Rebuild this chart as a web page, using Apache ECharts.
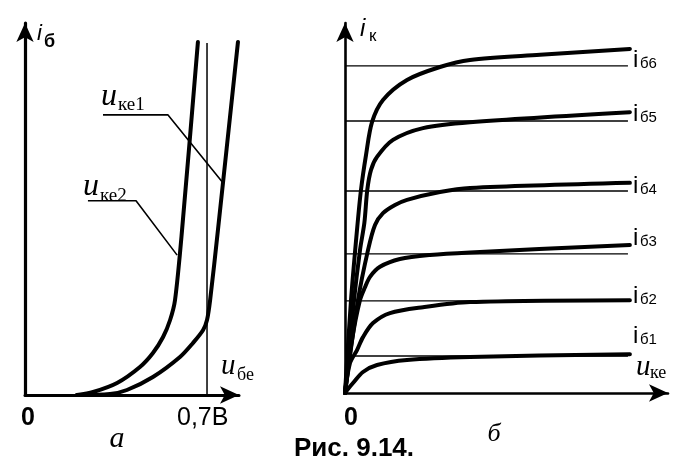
<!DOCTYPE html>
<html><head><meta charset="utf-8">
<script src="https://cdn.jsdelivr.net/npm/echarts@6/dist/echarts.min.js"></script>
<style>html,body{margin:0;padding:0;background:#fff}#c{width:692px;height:475px}</style>
</head><body><div id="c"></div>
<script>
// ---- left panel (a): input characteristics i_б(u_бе) ----
const ubeMax = 0.823;
const thresholdU = 0.7;
const thresholdTop = 94.6;
const inputKe2 = [[0.2,0],[0.262,0.81],[0.354,3.23],[0.442,7.53],[0.492,11.29],[0.531,15.59],[0.558,20.16],[0.577,25.54],[0.604,44.35],[0.665,94.89]];
const inputKe1 = [[0.2,0],[0.327,0.27],[0.392,1.34],[0.492,4.84],[0.596,10.22],[0.646,13.98],[0.685,17.47],[0.7,20.16],[0.712,25.54],[0.742,44.35],[0.819,94.89]];
const leaderKe1 = [[0.3,75.3],[0.55,75.3],[0.758,57.3]];
const leaderKe2 = [[0.242,52.2],[0.427,52.2],[0.585,37.6]];

// ---- right panel (б): output characteristics i_к(u_ке) ----
const outIb1 = [[0,0],[0.93,1.08],[2.48,2.7],[5.57,5.68],[9.91,7.57],[19.2,8.92],[38.7,9.73],[88.2,10.5]];
const outIb2 = [[0,0],[1.55,8.1],[3.72,11.6],[5.57,15.1],[8.67,18.9],[13.93,21.6],[24.15,23.2],[38.7,24.6],[88.2,25.1]];
const outIb3 = [[0,0],[2.17,14.3],[4.64,25.1],[6.19,28.6],[7.74,31.4],[10.84,34.1],[17.0,36.2],[26.3,37.3],[38.7,38.0],[88.2,40.0]];
const outIb4 = [[0,0],[4.02,25.1],[7.12,38.6],[9.29,45.4],[11.76,48.6],[15.48,50.8],[19.2,52.2],[29.4,54.3],[38.7,55.4],[88.2,56.8]];
const outIb5 = [[0,0],[2.79,25.1],[4.64,38.6],[6.0,46.0],[6.9,54.9],[8.05,60.3],[9.91,63.8],[14.86,68.4],[24.15,71.6],[38.7,73.2],[88.2,75.9]];
const outIb6 = [[0,0],[1.86,25.1],[3.72,44.1],[4.95,54.9],[6.5,64.3],[8.36,73.2],[11.76,79.2],[19.2,84.6],[29.4,88.1],[38.7,90.0],[60.4,91.4],[88.2,93.0]];
const baseLevels = [10.0, 24.9, 37.6, 54.6, 73.5, 88.4];
const levelEnd = 87.6;
const baseLabels = ['б1','б2','б3','б4','б5','б6'];

const chart = echarts.init(document.getElementById('c'), null, {renderer:'canvas'});

const axisStyle = (w) => ({show:true, onZero:false, symbol:['none','arrow'], symbolSize:[13,19], lineStyle:{color:'#000', width:w}});
const hidden = {axisTick:{show:false}, axisLabel:{show:false}, splitLine:{show:false}};

const thick = (data, xi) => ({type:'line', data, xAxisIndex:xi, yAxisIndex:xi, showSymbol:false, smooth:0.3,
  lineStyle:{color:'#000', width:4, cap:'round', join:'round'}, silent:true});
const thin = (data, xi, w) => ({type:'line', data, xAxisIndex:xi, yAxisIndex:xi, showSymbol:false, smooth:false,
  lineStyle:{color:'#000', width:w}, silent:true});

const series = [
  thin([[thresholdU,0],[thresholdU,thresholdTop]], 0, 1.5),
  thin(leaderKe1, 0, 1.6),
  thin(leaderKe2, 0, 1.6),
  thick(inputKe1, 0),
  thick(inputKe2, 0),
];
baseLevels.forEach(l => series.push(thin([[0,l],[levelEnd,l]], 1, 1.4)));
[outIb1,outIb2,outIb3,outIb4,outIb5,outIb6].forEach(d => series.push(thick(d,1)));

const sans = 'Liberation Sans, Arial, sans-serif';
const serif = 'Liberation Serif, Times New Roman, serif';
function T(text, x, y, font, align) {
  return {type:'text', x, y, silent:true, style:{text, font, fill:'#000', textAlign:align||'left', textVerticalAlign:'middle'}};
}
const labelBaselines = [345, 305, 247, 195, 123, 69];
const graphics = [
  T('i', 37, 34, 'italic 22px '+sans),
  T('б', 44, 42, 'bold 18px '+sans),
  T('i', 360, 29, 'italic 24px '+sans),
  T('к', 369, 36, '17px '+sans),
  T('u', 101, 96.5, 'italic 32px '+serif),
  T('ке1', 118, 105.4, '19px '+serif),
  T('u', 83, 186.5, 'italic 32px '+serif),
  T('ке2', 100, 196.4, '19px '+serif),
  T('u', 221, 366, 'italic 29px '+serif),
  T('бе', 237, 375.7, '18px '+serif),
  T('u', 636, 367, 'italic 29px '+serif),
  T('ке', 650, 373.7, '18px '+serif),
  T('0', 28, 418, 'bold 25px '+sans, 'center'),
  T('0,7В', 177, 418, '25px '+sans),
  T('а', 117, 439.5, 'italic 30px '+serif, 'center'),
  T('0', 351, 418, 'bold 25px '+sans, 'center'),
  T('б', 494, 434, 'italic 26px '+serif, 'center'),
  T('Рис. 9.14.', 354, 449, 'bold 26px '+sans, 'center'),
];
baseLabels.forEach((s, i) => {
  const b = labelBaselines[i];
  graphics.push(T('i', 633, b - 8.4, '24px '+sans));
  graphics.push(T(s, 640, b - 5.2, '15px '+sans));
});

chart.setOption({
  animation:false,
  backgroundColor:'#fff',
  grid:[{left:25, top:23, width:214, height:372}, {left:345, top:23, width:323, height:370}],
  xAxis:[
    Object.assign({type:'value', gridIndex:0, min:0, max:ubeMax, axisLine:axisStyle(3)}, hidden),
    Object.assign({type:'value', gridIndex:1, min:0, max:100, axisLine:axisStyle(2.6)}, hidden)
  ],
  yAxis:[
    Object.assign({type:'value', gridIndex:0, min:0, max:100, axisLine:axisStyle(3.2)}, hidden),
    Object.assign({type:'value', gridIndex:1, min:0, max:100, axisLine:axisStyle(2.6)}, hidden)
  ],
  series,
  graphic:graphics
});
</script></body></html>
